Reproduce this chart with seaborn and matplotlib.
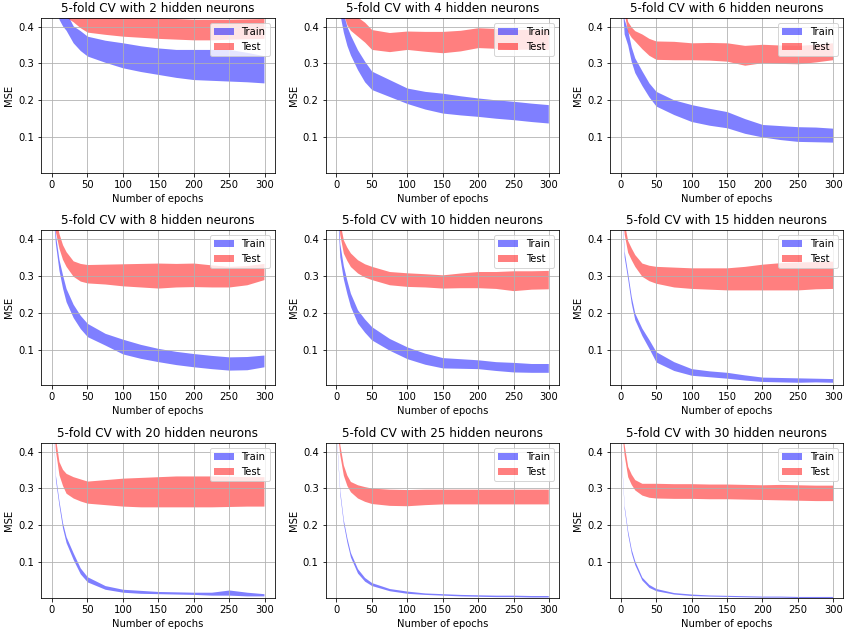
import numpy as np
import matplotlib
matplotlib.use("Agg")
from matplotlib import pyplot as plt
import seaborn as sns

epochs = [0, 5, 10, 15, 20, 30, 40, 50, 75, 100, 125, 150, 175, 200, 225, 250, 275, 299]

neurons = [2, 4, 6, 8, 10, 15, 20, 25, 30]

# mean / std of the 5 folds, per hidden layer size
train_mean_2 = [0.55, 0.50, 0.45, 0.43, 0.415, 0.379, 0.362, 0.347, 0.333, 0.322, 0.313, 0.306, 0.300, 0.297, 0.296, 0.295, 0.290, 0.284]
train_std_2 = [0.03, 0.03, 0.03, 0.028, 0.025, 0.023, 0.027, 0.027, 0.030, 0.034, 0.035, 0.036, 0.038, 0.041, 0.042, 0.043, 0.040, 0.037]
test_mean_2 = [0.62, 0.55, 0.50, 0.47, 0.45, 0.437, 0.422, 0.412, 0.406, 0.401, 0.398, 0.396, 0.394, 0.392, 0.392, 0.393, 0.394, 0.395]
test_std_2 = [0.024, 0.024, 0.024, 0.024, 0.024, 0.024, 0.025, 0.027, 0.027, 0.027, 0.027, 0.028, 0.028, 0.028, 0.028, 0.027, 0.027, 0.027]

train_mean_4 = [0.52, 0.46, 0.41, 0.375, 0.35, 0.31, 0.278, 0.254, 0.233, 0.212, 0.200, 0.192, 0.186, 0.181, 0.176, 0.172, 0.167, 0.163]
train_std_4 = [0.025, 0.025, 0.025, 0.026, 0.027, 0.027, 0.028, 0.025, 0.023, 0.021, 0.024, 0.027, 0.026, 0.025, 0.025, 0.025, 0.025, 0.025]
test_mean_4 = [0.56, 0.50, 0.46, 0.43, 0.415, 0.40, 0.385, 0.365, 0.358, 0.363, 0.360, 0.358, 0.362, 0.370, 0.368, 0.365, 0.366, 0.365]
test_std_4 = [0.025, 0.025, 0.025, 0.025, 0.025, 0.026, 0.027, 0.027, 0.026, 0.025, 0.027, 0.029, 0.028, 0.027, 0.027, 0.027, 0.027, 0.027]

train_mean_6 = [0.55, 0.40, 0.37, 0.325, 0.295, 0.26, 0.228, 0.204, 0.181, 0.165, 0.155, 0.147, 0.130, 0.117, 0.112, 0.108, 0.107, 0.105]
train_std_6 = [0.02, 0.02, 0.02, 0.02, 0.02, 0.02, 0.019, 0.02, 0.02, 0.023, 0.023, 0.022, 0.02, 0.017, 0.019, 0.02, 0.02, 0.019]
test_mean_6 = [0.55, 0.45, 0.40, 0.385, 0.375, 0.36, 0.345, 0.336, 0.335, 0.333, 0.333, 0.331, 0.322, 0.327, 0.325, 0.324, 0.328, 0.333]
test_std_6 = [0.014, 0.014, 0.014, 0.014, 0.014, 0.02, 0.023, 0.025, 0.025, 0.023, 0.024, 0.025, 0.027, 0.025, 0.025, 0.025, 0.024, 0.023]

train_mean_8 = [0.52, 0.40, 0.33, 0.285, 0.248, 0.205, 0.175, 0.153, 0.128, 0.108, 0.095, 0.085, 0.077, 0.071, 0.066, 0.062, 0.063, 0.069]
train_std_8 = [0.01, 0.012, 0.015, 0.018, 0.018, 0.018, 0.018, 0.018, 0.016, 0.02, 0.019, 0.018, 0.018, 0.018, 0.018, 0.018, 0.018, 0.016]
test_mean_8 = [0.55, 0.44, 0.395, 0.365, 0.346, 0.32, 0.31, 0.306, 0.305, 0.303, 0.302, 0.301, 0.302, 0.303, 0.300, 0.298, 0.302, 0.312]
test_std_8 = [0.02, 0.02, 0.02, 0.02, 0.02, 0.021, 0.024, 0.025, 0.027, 0.03, 0.032, 0.034, 0.032, 0.032, 0.03, 0.028, 0.026, 0.022]

train_mean_10 = [0.55, 0.37, 0.31, 0.27, 0.235, 0.19, 0.165, 0.144, 0.114, 0.091, 0.075, 0.064, 0.062, 0.060, 0.055, 0.052, 0.050, 0.050]
train_std_10 = [0.015, 0.018, 0.018, 0.018, 0.018, 0.018, 0.018, 0.018, 0.016, 0.016, 0.015, 0.014, 0.013, 0.012, 0.012, 0.013, 0.012, 0.012]
test_mean_10 = [0.55, 0.43, 0.38, 0.36, 0.344, 0.326, 0.315, 0.308, 0.294, 0.290, 0.288, 0.285, 0.288, 0.290, 0.289, 0.287, 0.289, 0.290]
test_std_10 = [0.018, 0.018, 0.018, 0.018, 0.0185, 0.018, 0.018, 0.018, 0.018, 0.0185, 0.018, 0.018, 0.02, 0.022, 0.023, 0.027, 0.025, 0.025]

train_mean_15 = [0.55, 0.36, 0.30, 0.235, 0.19, 0.148, 0.115, 0.08, 0.055, 0.039, 0.034, 0.030, 0.024, 0.019, 0.018, 0.017, 0.017, 0.016]
train_std_15 = [0.005, 0.008, 0.008, 0.009, 0.009, 0.01, 0.012, 0.014, 0.012, 0.009, 0.008, 0.008, 0.007, 0.006, 0.006, 0.006, 0.005, 0.005]
test_mean_15 = [0.55, 0.43, 0.38, 0.36, 0.342, 0.317, 0.308, 0.303, 0.297, 0.294, 0.293, 0.292, 0.294, 0.297, 0.299, 0.300, 0.302, 0.303]
test_std_15 = [0.016, 0.016, 0.016, 0.016, 0.016, 0.018, 0.021, 0.023, 0.027, 0.028, 0.029, 0.03, 0.032, 0.035, 0.037, 0.038, 0.037, 0.037]

train_mean_20 = [0.55, 0.33, 0.26, 0.20, 0.161, 0.116, 0.076, 0.053, 0.031, 0.022, 0.019, 0.017, 0.016, 0.015, 0.014, 0.017, 0.013, 0.011]
train_std_20 = [0.004, 0.006, 0.006, 0.007, 0.008, 0.009, 0.008, 0.007, 0.005, 0.004, 0.004, 0.003, 0.003, 0.003, 0.004, 0.007, 0.005, 0.003]
test_mean_20 = [0.55, 0.42, 0.355, 0.33, 0.314, 0.303, 0.296, 0.290, 0.290, 0.290, 0.290, 0.291, 0.292, 0.292, 0.292, 0.292, 0.292, 0.292]
test_std_20 = [0.015, 0.017, 0.018, 0.022, 0.027, 0.029, 0.03, 0.03, 0.034, 0.038, 0.04, 0.041, 0.042, 0.042, 0.042, 0.041, 0.04, 0.04]

train_mean_25 = [0.45, 0.29, 0.21, 0.16, 0.12, 0.076, 0.053, 0.04, 0.025, 0.018, 0.014, 0.012, 0.010, 0.009, 0.008, 0.008, 0.007, 0.007]
train_std_25 = [0.004, 0.005, 0.005, 0.006, 0.006, 0.006, 0.005, 0.004, 0.003, 0.003, 0.002, 0.002, 0.002, 0.002, 0.002, 0.002, 0.002, 0.002]
test_mean_25 = [0.50, 0.405, 0.35, 0.322, 0.305, 0.292, 0.285, 0.280, 0.276, 0.275, 0.277, 0.278, 0.278, 0.278, 0.278, 0.278, 0.278, 0.278]
test_std_25 = [0.014, 0.014, 0.014, 0.014, 0.014, 0.018, 0.02, 0.021, 0.022, 0.022, 0.021, 0.02, 0.02, 0.02, 0.02, 0.02, 0.02, 0.02]

train_mean_30 = [0.42, 0.25, 0.18, 0.13, 0.098, 0.055, 0.035, 0.025, 0.015, 0.011, 0.009, 0.008, 0.007, 0.006, 0.006, 0.005, 0.005, 0.005]
train_std_30 = [0.004, 0.004, 0.005, 0.005, 0.005, 0.004, 0.004, 0.003, 0.002, 0.002, 0.0015, 0.0015, 0.0015, 0.0015, 0.0015, 0.0015, 0.0015, 0.0015]
test_mean_30 = [0.50, 0.405, 0.346, 0.325, 0.31, 0.298, 0.295, 0.294, 0.293, 0.293, 0.292, 0.292, 0.291, 0.290, 0.290, 0.289, 0.288, 0.288]
test_std_30 = [0.014, 0.014, 0.014, 0.014, 0.014, 0.016, 0.019, 0.02, 0.02, 0.02, 0.02, 0.02, 0.02, 0.02, 0.021, 0.021, 0.021, 0.021]

train_means = [train_mean_2, train_mean_4, train_mean_6, train_mean_8, train_mean_10,
               train_mean_15, train_mean_20, train_mean_25, train_mean_30]
train_stds = [train_std_2, train_std_4, train_std_6, train_std_8, train_std_10,
              train_std_15, train_std_20, train_std_25, train_std_30]
test_means = [test_mean_2, test_mean_4, test_mean_6, test_mean_8, test_mean_10,
              test_mean_15, test_mean_20, test_mean_25, test_mean_30]
test_stds = [test_std_2, test_std_4, test_std_6, test_std_8, test_std_10,
             test_std_15, test_std_20, test_std_25, test_std_30]

sns.set_style("ticks", {"axes.grid": True, "grid.color": "#b0b0b0",
                        "axes.edgecolor": "black", "axes.axisbelow": "line",
                        "xtick.color": "black", "ytick.color": "black",
                        "axes.labelcolor": "black", "text.color": "black"})
plt.rcParams['font.family'] = ['DejaVu Sans']
plt.rcParams['font.size'] = 10

fig, axes = plt.subplots(3, 3, figsize=(853 / 72, 635 / 72), dpi=72)
fig.subplots_adjust(left=0.0484, right=0.9886, top=0.972, bottom=0.0587,
                    wspace=0.219, hspace=0.372)

x = np.array(epochs)
for ax, n, trm, trs, tem, tes in zip(axes.flat, neurons, train_means, train_stds, test_means, test_stds):
    trm, trs = np.array(trm), np.array(trs)
    tem, tes = np.array(tem), np.array(tes)
    ax.fill_between(x, trm - trs, trm + trs, color='blue', alpha=0.5, linewidth=0, label='Train')
    ax.fill_between(x, tem - tes, tem + tes, color='red', alpha=0.5, linewidth=0, label='Test')
    ax.set_xlim(-14.95, 313.95)
    ax.set_ylim(0.003, 0.424)
    ax.set_xticks([0, 50, 100, 150, 200, 250, 300])
    ax.set_yticks([0.1, 0.2, 0.3, 0.4])
    ax.grid(True, color='#b0b0b0', linewidth=0.8)
    ax.set_title('5-fold CV with %d hidden neurons' % n, fontsize=12)
    ax.set_xlabel('Number of epochs')
    ax.set_ylabel('MSE')
    ax.legend(loc='upper right')

fig.savefig('out.png', dpi=72)
